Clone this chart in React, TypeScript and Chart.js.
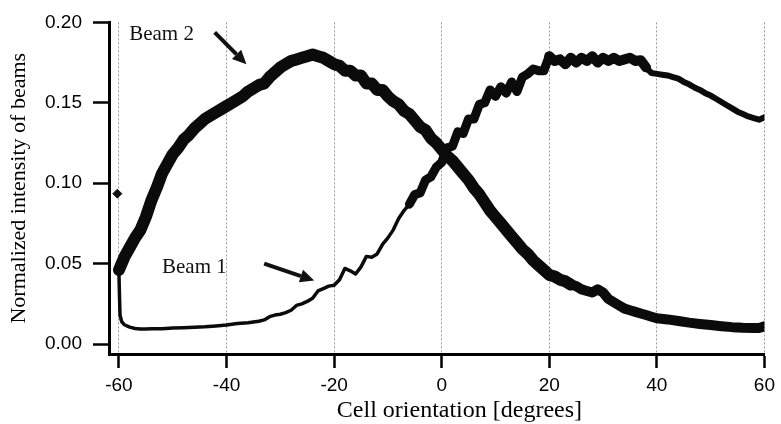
import React, { useEffect, useRef } from "react";
import { Chart, registerables } from "chart.js";

Chart.register(...registerables);

// ---- Data ----
const beam1X = [
  -60, -59.9, -59.8, -59.5, -59, -58, -57, -56, -55, -54, -52, -50, -48, -46, -44, -42, -40, -38, -36, -34,
  -33, -32, -31, -30, -29, -28, -27, -26, -25, -24, -23, -22, -21, -20, -19, -18, -17, -16, -15, -14,
  -13, -12, -11, -10, -9, -8, -7, -6, -5, -4, -3, -2, -1, 0, 1, 2, 3, 4, 5, 6,
  7, 8, 9, 10, 11, 12, 13, 14, 15, 16, 17, 18, 19, 20, 21, 22, 23, 24, 25, 26,
  27, 28, 29, 30, 31, 32, 33, 34, 35, 36, 37, 38, 39, 40, 41, 42, 43, 44, 45, 46,
  47, 48, 49, 50, 51, 52, 53, 54, 55, 56, 57, 58, 59, 60,
];
const beam1Y = [
  0.044, 0.03, 0.018, 0.014, 0.012, 0.0105, 0.0097, 0.0093, 0.0093, 0.0095, 0.0095, 0.01, 0.0102, 0.0104, 0.0107, 0.0112, 0.0118, 0.0127, 0.0133, 0.0142,
  0.015, 0.017, 0.018, 0.0185, 0.0195, 0.021, 0.024, 0.025, 0.0265, 0.0285, 0.033, 0.0345, 0.036, 0.0365, 0.04, 0.047, 0.0455, 0.0435, 0.048, 0.0545,
  0.054, 0.056, 0.062, 0.066, 0.071, 0.078, 0.083, 0.087, 0.093, 0.094, 0.102, 0.104, 0.11, 0.113, 0.122, 0.123, 0.132, 0.131, 0.14, 0.14,
  0.149, 0.15, 0.158, 0.154, 0.16, 0.156, 0.163, 0.157, 0.166, 0.168, 0.171, 0.17, 0.17, 0.179, 0.176, 0.177, 0.174, 0.178, 0.175, 0.178,
  0.176, 0.179, 0.175, 0.178, 0.176, 0.178, 0.176, 0.177, 0.178, 0.176, 0.1765, 0.172, 0.1685, 0.168, 0.1675, 0.167, 0.166, 0.165, 0.163, 0.1615,
  0.1595, 0.158, 0.156, 0.1545, 0.1525, 0.1505, 0.1485, 0.1465, 0.1445, 0.143, 0.1415, 0.1405, 0.1395, 0.141,
];

const beam2X = [
  -60, -59.5, -59, -58, -57, -56, -55, -54, -53, -52, -51, -50, -49, -48, -47, -46, -45, -44, -43, -42,
  -41, -40, -39, -38, -37, -36, -35, -34, -33, -32, -31, -30, -29, -28, -27, -26, -25, -24, -23, -22,
  -21, -20, -19, -18, -17, -16, -15, -14, -13, -12, -11, -10, -9, -8, -7, -6, -5, -4, -3, -2,
  -1, 0, 1, 2, 3, 4, 5, 6, 7, 8, 9, 10, 11, 12, 13, 14, 15, 16, 17, 18,
  19, 20, 21, 22, 23, 24, 25, 26, 27, 28, 29, 30, 31, 32, 33, 34, 35, 36, 37, 38,
  39, 40, 42, 44, 46, 48, 50, 52, 54, 56, 58, 59, 60,
];
const beam2Y = [
  0.046, 0.05, 0.054, 0.06, 0.066, 0.071, 0.079, 0.089, 0.097, 0.106, 0.112, 0.118, 0.122, 0.127, 0.13, 0.134, 0.137, 0.14, 0.142, 0.144,
  0.146, 0.148, 0.15, 0.152, 0.154, 0.157, 0.159, 0.161, 0.162, 0.166, 0.169, 0.172, 0.174, 0.176, 0.177, 0.178, 0.179, 0.18, 0.179, 0.178,
  0.176, 0.174, 0.173, 0.17, 0.17, 0.167, 0.167, 0.162, 0.162, 0.158, 0.158, 0.154, 0.151, 0.149, 0.145, 0.143, 0.139, 0.135, 0.133, 0.128,
  0.125, 0.121, 0.117, 0.114, 0.11, 0.106, 0.102, 0.097, 0.093, 0.088, 0.083, 0.079, 0.075, 0.071, 0.067, 0.063, 0.059, 0.056, 0.052, 0.049,
  0.046, 0.043, 0.042, 0.04, 0.039, 0.037, 0.036, 0.034, 0.033, 0.032, 0.034, 0.032, 0.028, 0.026, 0.024, 0.022, 0.021, 0.02, 0.019, 0.018,
  0.017, 0.016, 0.0153, 0.0143, 0.0133, 0.0125, 0.0118, 0.0111, 0.0105, 0.0101, 0.01, 0.01, 0.011,
];

const markerX = [-60.3];
const markerY = [0.0935];

const xTicks = [-60, -40, -20, 0, 20, 40, 60];
const yTicks = [0, 0.05, 0.1, 0.15, 0.2];

const xTitle = "Cell orientation [degrees]";
const yTitle = "Normalized intensity of beams";
const xTitleAt = 3.3; // data x at which the x-axis title is centred

const labelTexts = ["Beam 2", "Beam 1"];
const labelX = [-58.1, -52.0];
const labelY = [0.1926, 0.0475];
const arrowFromX = [-42.2, -33.0];
const arrowFromY = [0.1938, 0.05];
const arrowToX = [-36.3, -23.7];
const arrowToY = [0.174, 0.0395];

const SERIF = '"Liberation Serif", "Times New Roman", Times, serif';
const SANS = '"Liberation Sans", Arial, Helvetica, sans-serif';

const annotPlugin = {
  id: "annot",
  afterDatasetsDraw(chart: any) {
    const { ctx, scales } = chart;
    const xs = scales.x;
    const ys = scales.y;
    ctx.save();
    ctx.fillStyle = "#111";
    ctx.strokeStyle = "#111";
    ctx.font = `21px ${SERIF}`;
    ctx.textBaseline = "middle";
    ctx.textAlign = "left";
    labelTexts.forEach((t, i) => {
      ctx.fillText(t, xs.getPixelForValue(labelX[i]), ys.getPixelForValue(labelY[i]));
    });
    for (let i = 0; i < arrowFromX.length; i++) {
      const x0 = xs.getPixelForValue(arrowFromX[i]);
      const y0 = ys.getPixelForValue(arrowFromY[i]);
      const x1 = xs.getPixelForValue(arrowToX[i]);
      const y1 = ys.getPixelForValue(arrowToY[i]);
      const ang = Math.atan2(y1 - y0, x1 - x0);
      const head = 14;
      const hw = 6.5;
      const bx = x1 - head * Math.cos(ang);
      const by = y1 - head * Math.sin(ang);
      ctx.lineWidth = 4;
      ctx.lineCap = "butt";
      ctx.beginPath();
      ctx.moveTo(x0, y0);
      ctx.lineTo(bx, by);
      ctx.stroke();
      ctx.beginPath();
      ctx.moveTo(x1, y1);
      ctx.lineTo(bx + hw * Math.sin(ang), by - hw * Math.cos(ang));
      ctx.lineTo(bx - hw * Math.sin(ang), by + hw * Math.cos(ang));
      ctx.closePath();
      ctx.fill();
    }
    // x-axis title (centred slightly right of the plot centre, as in the reference)
    ctx.fillStyle = "#000";
    ctx.font = `24px ${SERIF}`;
    ctx.textAlign = "center";
    ctx.textBaseline = "middle";
    ctx.fillText(xTitle, xs.getPixelForValue(xTitleAt), xs.bottom - 13);
    ctx.restore();
  },
};

export default function App() {
  const canvasRef = useRef<HTMLCanvasElement | null>(null);

  useEffect(() => {
    if (!canvasRef.current) return;
    const chart = new Chart(canvasRef.current, {
      type: "line",
      data: {
        datasets: [
          {
            label: "Beam 2",
            data: beam2X.map((x, i) => ({ x, y: beam2Y[i] })),
            borderColor: "#0b0b0b",
            borderWidth: 12,
            pointRadius: 0,
            borderJoinStyle: "round",
            borderCapStyle: "round",
            fill: false,
            tension: 0,
            segment: {
              borderWidth: (c: any) => (c.p0.parsed.x < 24 ? 12 : 10),
            },
          },
          {
            label: "Beam 1",
            data: beam1X.map((x, i) => ({ x, y: beam1Y[i] })),
            borderColor: "#0b0b0b",
            borderWidth: 3.5,
            pointRadius: 0,
            borderJoinStyle: "round",
            borderCapStyle: "round",
            fill: false,
            tension: 0,
            segment: {
              borderWidth: (c: any) => {
                const xv = c.p0.parsed.x;
                if (xv < -6) return 3.5;
                if (xv < 20) return 9;
                if (xv < 38) return 10;
                return 6;
              },
            },
          },
          {
            label: "marker",
            data: markerX.map((x, i) => ({ x, y: markerY[i] })),
            showLine: false,
            pointStyle: "rectRot",
            pointRadius: 4.5,
            backgroundColor: "#111",
            borderColor: "#111",
          },
        ] as any,
      },
      options: {
        animation: false,
        responsive: false,
        maintainAspectRatio: false,
        layout: { padding: { left: 0, top: 20, right: 14, bottom: 0 } },
        plugins: {
          legend: { display: false },
          tooltip: { enabled: false },
        },
        scales: {
          x: {
            type: "linear",
            min: -61.85,
            max: 60,
            afterBuildTicks: (s: any) => {
              s.ticks = xTicks.map((v) => ({ value: v }));
            },
            afterFit: (s: any) => {
              s.height = 70;
            },
            grid: {
              color: "#9a9a9a",
              lineWidth: 1,
              drawTicks: true,
              tickLength: 14,
              tickColor: "#000",
              tickWidth: 2.5,
              tickBorderDash: [],
            },
            border: { display: true, color: "#000", width: 3, dash: [2, 2] },
            ticks: {
              color: "#000",
              font: { family: SANS, size: 19 },
              padding: 6,
              maxRotation: 0,
              autoSkip: false,
            },
            title: { display: false, text: xTitle },
          },
          y: {
            type: "linear",
            min: -0.0062,
            max: 0.2,
            afterBuildTicks: (s: any) => {
              s.ticks = yTicks.map((v) => ({ value: v }));
            },
            afterFit: (s: any) => {
              s.width = 109;
            },
            grid: {
              drawOnChartArea: false,
              drawTicks: true,
              tickLength: 16,
              tickColor: "#000",
              tickWidth: 2.5,
            },
            border: { display: true, color: "#000", width: 3 },
            ticks: {
              color: "#000",
              font: { family: SANS, size: 19 },
              padding: 11,
              callback: (v: any) => Number(v).toFixed(2),
            },
            title: {
              display: true,
              text: yTitle,
              color: "#000",
              font: { family: SERIF, size: 22 },
              padding: { top: 6, bottom: 0 },
            },
          },
        },
      } as any,
      plugins: [annotPlugin],
    });
    return () => chart.destroy();
  }, []);

  return (
    <div style={{ position: "absolute", left: 0, top: 0, width: 781, height: 424, background: "#fff" }}>
      <canvas ref={canvasRef} width={781} height={424} style={{ display: "block" }} />
    </div>
  );
}
